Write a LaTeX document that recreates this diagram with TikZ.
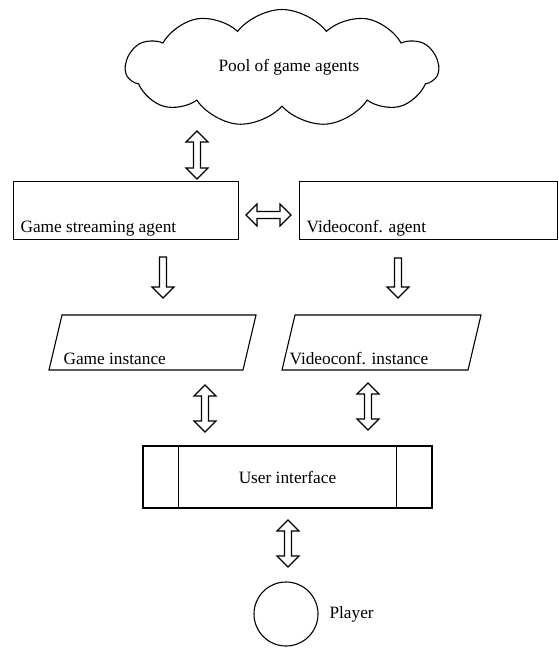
\documentclass[tikz,border=0pt]{standalone}
\usepackage{fontspec}
\setmainfont{Liberation Serif}
\usetikzlibrary{calc,shapes.symbols}
\def\arrHL{11pt}
\def\arrHW{11pt}
\def\arrSW{3.5pt}
\newcommand\dblarr[2]{%
 \draw[blockarr] (#1)
 -- ($(#1)!\arrHL!(#2)!\arrHW!90:(#2)$)
 -- ($(#1)!\arrHL!(#2)!\arrSW!90:(#2)$)
 -- ($(#2)!\arrHL!(#1)!\arrSW!-90:(#1)$)
 -- ($(#2)!\arrHL!(#1)!\arrHW!-90:(#1)$)
 -- (#2)
 -- ($(#2)!\arrHL!(#1)!\arrHW!90:(#1)$)
 -- ($(#2)!\arrHL!(#1)!\arrSW!90:(#1)$)
 -- ($(#1)!\arrHL!(#2)!\arrSW!-90:(#2)$)
 -- ($(#1)!\arrHL!(#2)!\arrHW!-90:(#2)$)
 -- cycle;}
\newcommand\sglarr[2]{%
 \draw[blockarr] ($(#1)!\arrSW!90:(#2)$)
 -- ($(#2)!\arrHL!(#1)!\arrSW!-90:(#1)$)
 -- ($(#2)!\arrHL!(#1)!\arrHW!-90:(#1)$)
 -- (#2)
 -- ($(#2)!\arrHL!(#1)!\arrHW!90:(#1)$)
 -- ($(#2)!\arrHL!(#1)!\arrSW!90:(#1)$)
 -- ($(#1)!\arrSW!-90:(#2)$)
 -- cycle;}
\tikzset{
 blockarr/.style={draw=black, line width=1.1pt, line join=miter},
 box/.style={draw, line width=1.1pt, rectangle, inner sep=0pt, anchor=north west},
 lbl/.style={anchor=base west, inner sep=0pt},
}
\begin{document}
\begin{tikzpicture}[x=1pt,y=-1pt, font=\fontsize{17.3}{20}\selectfont, line width=1.1pt]
\useasboundingbox (0,0) rectangle (559,648);
% cloud
\node[cloud, draw, cloud puffs=11, cloud puff arc=105, cloud ignores aspect,
      minimum width=313pt, minimum height=117pt, inner sep=0pt] (pool) at (282,68) {};
\node (pooltext) at (289,67) {Pool of game agents};
% agent boxes
\node[box, minimum width=225pt, minimum height=58pt] (gsa) at (13,181) {};
\node[lbl] (gsat) at (20,232) {Game streaming agent};
\node[box, minimum width=258pt, minimum height=58pt] (vca) at (299,181) {};
\node[lbl] (vcat) at (306,232) {Videoconf. agent};
% instances
\draw (62,315) coordinate (gi1) -- (256,315) -- (243,370) -- (49,370) -- cycle;
\node[lbl] (git) at (63,364) {Game instance};
\draw (295,315) coordinate (vi1) -- (481,315) -- (468,370) -- (282,370) -- cycle;
\node[lbl] (vit) at (289,364) {Videoconf. instance};
% user interface
\node[draw, rectangle, minimum width=289pt, minimum height=62pt, inner sep=0pt] (ui) at (287.5,477) {User interface};
\draw ([xshift=36pt]ui.north west) -- ([xshift=36pt]ui.south west);
\draw ([xshift=-36pt]ui.north east) -- ([xshift=-36pt]ui.south east);
% player
\node[draw, circle, minimum size=64pt, inner sep=0pt] (player) at (286,614) {};
\node[anchor=west, inner sep=0pt] (playert) at (329,614) {Player};
% arrow end points
\coordinate (a1s) at (197,131); \coordinate (a1e) at (197,179);
\coordinate (a2s) at (246,215); \coordinate (a2e) at (291,215);
\coordinate (a3s) at (163,257); \coordinate (a3e) at (163,298);
\coordinate (a4s) at (398,258); \coordinate (a4e) at (398,298);
\coordinate (a5s) at (205,385); \coordinate (a5e) at (205,432);
\coordinate (a6s) at (368,383); \coordinate (a6e) at (368,430);
\coordinate (a7s) at (288,520); \coordinate (a7e) at (288,567);
\dblarr{a1s}{a1e}
\dblarr{a2s}{a2e}
\sglarr{a3s}{a3e}
\sglarr{a4s}{a4e}
\dblarr{a5s}{a5e}
\dblarr{a6s}{a6e}
\dblarr{a7s}{a7e}
\end{tikzpicture}
\end{document}
